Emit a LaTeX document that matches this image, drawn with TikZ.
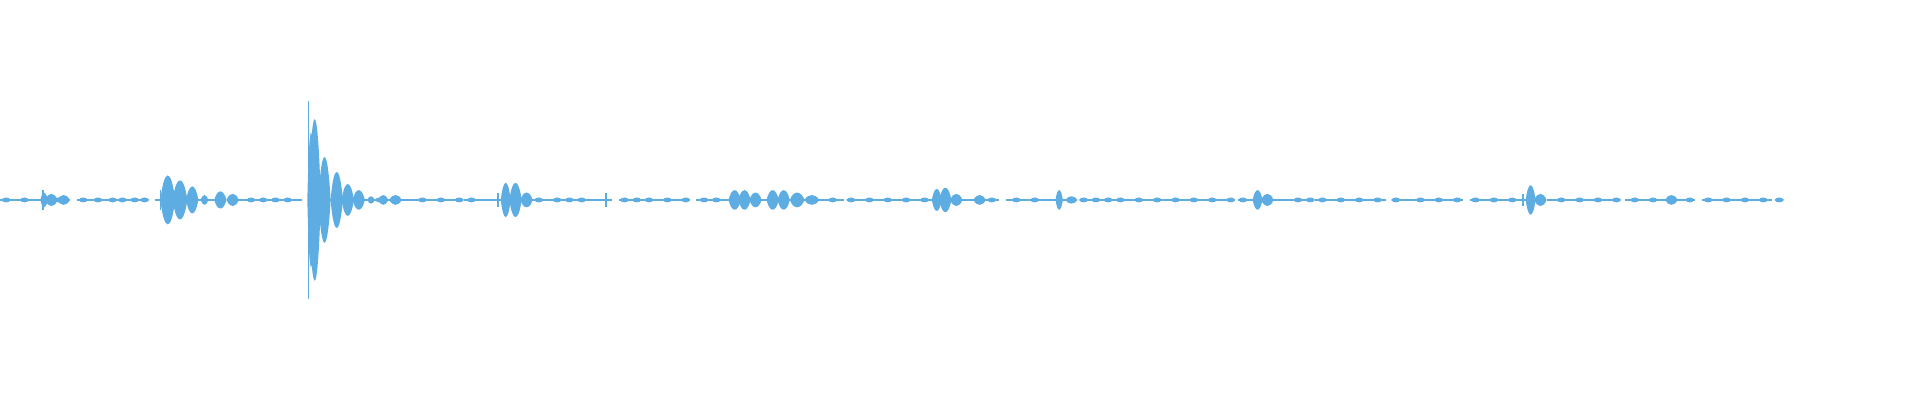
\documentclass[tikz,border=0pt]{standalone}
\usepackage{tikz}
\definecolor{wavblue}{HTML}{5DADE2}
\newcommand{\wblob}[3]{\fill[wave] ({#1-#2},0) .. controls ({#1-#2/2},{4*#3/3}) and ({#1+#2/2},{4*#3/3}) .. ({#1+#2},0) .. controls ({#1+#2/2},{-4*#3/3}) and ({#1-#2/2},{-4*#3/3}) .. cycle;}
\newcommand{\wspike}[2]{\draw[wavblue,line width=0.5pt] (#1,#2) -- (#1,-#2);}
\begin{document}
\begin{tikzpicture}[x=0.012245cm,y=0.012245cm,
  wave/.style={wavblue,draw=none},
  base/.style={wavblue,line width=0.6pt,dash pattern=on 20 off 2}
]
\useasboundingbox (0,-163.3) rectangle (1568,163.3);
% baseline
\draw[base] (0,0) -- (1455,0);
\foreach \x in {5,20,48,68,80,92,100,110,118,205,215,225,235,310,345,360,375,385,440,455,465,475,510,520,530,545,560,575,585,680,695,710,725,740,755,810,830,845,885,895,905,915,930,945,960,975,990,1005,1015,1060,1070,1080,1095,1110,1125,1140,1160,1175,1190,1205,1220,1235,1275,1290,1305,1320,1335,1350,1380,1395,1410,1425,1440,1453}
  \wblob{\x}{4}{2};
% first burst
\wblob{36}{3}{6}
\wblob{42}{5}{5}
\wblob{52}{5}{4}
\wspike{35}{8}
% second burst
\wblob{137}{6}{20}
\wblob{147}{6}{16}
\wblob{157}{5}{11}
\wblob{167}{3}{4}
\wblob{180}{5}{7}
\wblob{190}{5}{5}
\wspike{131}{8}
% main burst
\wblob{254}{3}{55}
\wblob{257}{5}{66}
\wblob{265}{5}{35}
\wblob{275}{5}{23}
\wblob{284}{5}{13}
\wblob{293}{5}{8}
\wblob{303}{3}{3}
\wblob{313}{4}{4}
\wblob{323}{5}{4}
\wspike{252}{81}
% later bursts
\wblob{413}{4}{14}
\wblob{421}{5}{14}
\wblob{430}{5}{6}
\wspike{407}{6}
\wspike{495}{6}
\wblob{600}{5}{8}
\wblob{608}{5}{8}
\wblob{617}{5}{6}
\wblob{631}{5}{8}
\wblob{640}{5}{8}
\wblob{651}{6}{6}
\wblob{663}{6}{4}
\wblob{765}{4}{9}
\wblob{772}{5}{10}
\wblob{781}{5}{5}
\wblob{800}{5}{4}
\wblob{865}{3}{8}
\wblob{875}{5}{3}
\wblob{1027}{4}{8}
\wblob{1035}{5}{5}
\wblob{1250}{4}{12}
\wblob{1258}{5}{5}
\wspike{1244}{5}
\wblob{1365}{5}{4}
\end{tikzpicture}
\end{document}
